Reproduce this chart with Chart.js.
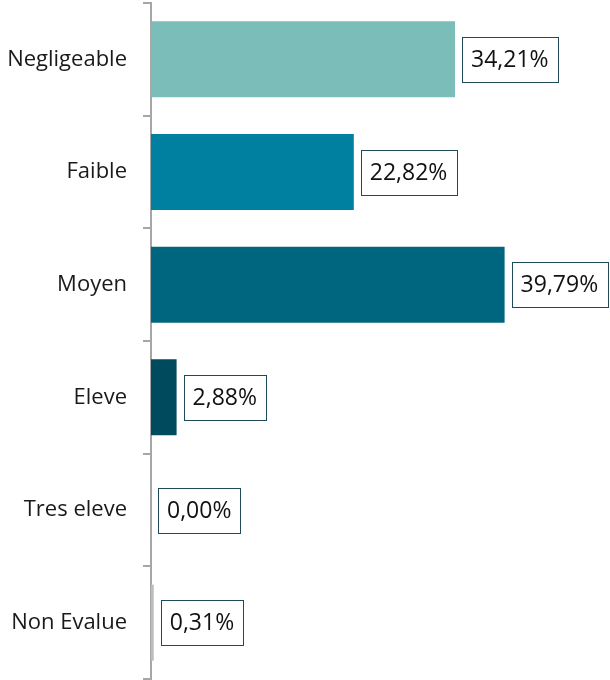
<!DOCTYPE html>
<html lang="fr">
<head>
  <meta charset="UTF-8">
  <title>Répartition par niveau</title>
  <script src="https://cdn.jsdelivr.net/npm/chart.js"></script>
  <style>
    html, body { margin: 0; padding: 0; background: #fff; }
    #wrap { width: 610px; height: 680px; }
  </style>
</head>
<body>
  <div id="wrap"><canvas id="graph"></canvas></div>

  <script>
    // Données
    const categories = ["Negligeable", "Faible", "Moyen", "Eleve", "Tres eleve", "Non Evalue"];
    const values = [34.21, 22.82, 39.79, 2.88, 0.00, 0.31];
    const barColors = ["#7bbdb9", "#0080a1", "#00657e", "#004a5e", "#00394a", "#bdbdbd"];

    const labelFont = "Open Sans";

    // Étiquettes encadrées à droite des barres
    const boxLabels = {
      id: "boxLabels",
      afterDatasetsDraw(chart) {
        const ctx = chart.ctx;
        const meta = chart.getDatasetMeta(0);
        ctx.save();
        ctx.font = "23px '" + labelFont + "'";
        ctx.textBaseline = "middle";
        ctx.textAlign = "center";
        meta.data.forEach((bar, i) => {
          const text = values[i].toFixed(2).replace(".", ",") + "%";
          const w = ctx.measureText(text).width + 18;
          const h = 45;
          const x = bar.x + 7;
          const y = bar.y - h / 2;
          ctx.fillStyle = "#ffffff";
          ctx.fillRect(x, y, w, h);
          ctx.strokeStyle = "#1f4a5a";
          ctx.lineWidth = 1;
          ctx.strokeRect(Math.round(x) + 0.5, Math.round(y) + 0.5, Math.round(w), h);
          ctx.fillStyle = "#111111";
          ctx.fillText(text, x + w / 2, bar.y + 1);
        });
        ctx.restore();
      }
    };

    const ctx = document.getElementById("graph").getContext("2d");
    new Chart(ctx, {
      type: "bar",
      data: {
        labels: categories,
        datasets: [{
          data: values,
          backgroundColor: barColors,
          borderWidth: 0,
          categoryPercentage: 1,
          barPercentage: 0.675
        }]
      },
      options: {
        indexAxis: "y",
        responsive: true,
        maintainAspectRatio: false,
        animation: false,
        layout: { padding: { top: 3, bottom: 1, left: 0, right: 0 } },
        plugins: {
          legend: { display: false },
          tooltip: { enabled: false }
        },
        scales: {
          x: {
            display: false,
            min: 0,
            max: 51.65
          },
          y: {
            afterFit(scale) {
              scale.width = 151;
              scale.paddingTop = 0;
              scale.paddingBottom = 0;
            },
            border: { color: "#a6a6a6", width: 2 },
            grid: {
              offset: true,
              drawOnChartArea: false,
              color: "#a6a6a6",
              lineWidth: 2,
              tickLength: 8
            },
            ticks: {
              padding: 16,
              color: "#1a1a1a",
              font: { family: labelFont, size: 22 }
            }
          }
        }
      },
      plugins: [boxLabels]
    });
  </script>
</body>
</html>
